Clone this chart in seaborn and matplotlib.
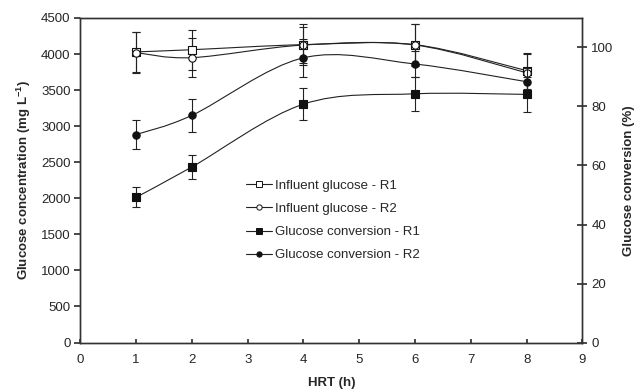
import numpy as np
import pandas as pd
import matplotlib
matplotlib.use("Agg")
import matplotlib.pyplot as plt
import seaborn as sns
from matplotlib.path import Path
from matplotlib.patches import PathPatch
from matplotlib.lines import Line2D

# ---- data ----
hrt = [1, 2, 4, 6, 8]
influent_r1 = [4030, 4060, 4130, 4130, 3770]
influent_r1_err = [280, 276, 285, 285, 250]
influent_r2 = [4020, 3950, 4125, 4125, 3740]
influent_r2_err = [280, 270, 255, 285, 265]
conversion_r1 = [49.2, 59.5, 80.8, 84.3, 84.1]
conversion_r1_err = [3.4, 4.1, 5.5, 5.8, 5.9]
conversion_r2 = [70.5, 77.0, 96.5, 94.4, 88.4]
conversion_r2_err = [4.8, 5.5, 6.5, 4.5, 4.5]
labels = ["Influent glucose - R1", "Influent glucose - R2",
          "Glucose conversion - R1", "Glucose conversion - R2"]

sns.set_theme(style="ticks")
plt.rcParams["font.family"] = ["Liberation Sans", "DejaVu Sans"]
plt.rcParams["mathtext.fontset"] = "custom"
plt.rcParams["mathtext.rm"] = "Liberation Sans"
plt.rcParams["mathtext.bf"] = "Liberation Sans:bold"

FS = 9.5
fig = plt.figure(figsize=(6.35, 3.91), dpi=100)
ax = fig.add_axes([0.1265, 0.124, 0.7906, 0.830])
ax2 = ax.twinx()

spine_c = "#333333"


def smooth_path(x, y):
    pts = np.column_stack([x, y]).astype(float)
    n = len(pts)
    verts = [pts[0]]
    codes = [Path.MOVETO]
    for i in range(n - 1):
        p0 = pts[i - 1] if i > 0 else pts[i]
        p1 = pts[i]
        p2 = pts[i + 1]
        p3 = pts[i + 2] if i + 2 < n else pts[i + 1]
        c1 = p1 + (p2 - p0) / 6.0
        c2 = p2 - (p3 - p1) / 6.0
        verts += [c1, c2, p2]
        codes += [Path.CURVE4] * 3
    return Path(verts, codes)


series = [
    (ax, influent_r1, influent_r1_err, "s", "white"),
    (ax, influent_r2, influent_r2_err, "o", "white"),
    (ax2, conversion_r1, conversion_r1_err, "s", "#111111"),
    (ax2, conversion_r2, conversion_r2_err, "o", "#111111"),
]

for a, vals, err, mk, fc in series:
    a.add_patch(PathPatch(smooth_path(hrt, vals), fill=False,
                          edgecolor="#222222", lw=0.8, zorder=2))
    a.errorbar(hrt, vals, yerr=err, fmt="none", ecolor="#222222",
               elinewidth=0.8, capsize=3, capthick=0.8, zorder=2)
    df = pd.DataFrame({"HRT": hrt, "val": vals})
    sns.scatterplot(data=df, x="HRT", y="val", ax=a, marker=mk, s=28,
                    color=fc, edgecolor="#111111", linewidth=0.8, zorder=3,
                    legend=False)

ax.set_xlim(0, 9)
ax.set_ylim(0, 4500)
ax.set_xticks(range(0, 10))
ax.set_yticks(range(0, 4501, 500))
ax2.set_ylim(0, 110)
ax2.set_yticks(range(0, 101, 20))

ax.set_xlabel("HRT (h)", fontsize=FS, fontweight="bold", labelpad=8)
ax.set_ylabel(r"Glucose concentration (mg L$^{\mathbf{-1}}$)", fontsize=FS,
              fontweight="bold", labelpad=6)
ax2.set_ylabel("Glucose conversion (%)", fontsize=FS, fontweight="bold",
               labelpad=7)

ax.tick_params(axis="x", direction="in", length=3, labelsize=FS, pad=8,
               color=spine_c)
ax.tick_params(axis="y", direction="out", length=4, labelsize=FS, pad=3,
               color=spine_c)
ax2.tick_params(axis="y", direction="inout", length=7, labelsize=FS, pad=3,
                color=spine_c)

for a in (ax, ax2):
    for s in a.spines.values():
        s.set_visible(True)
        s.set_color(spine_c)
        s.set_linewidth(1.0)

handles = []
for _, _, _, mk, fc in series:
    handles.append(Line2D([], [], color="#222222", lw=0.8, marker=mk,
                          markersize=3.8, markerfacecolor=fc,
                          markeredgecolor="#111111", markeredgewidth=0.7))
leg = ax2.legend(handles, labels, loc="center left",
                 bbox_to_anchor=(246 / 635, 1 - 220.5 / 391),
                 bbox_transform=fig.transFigure, frameon=False, fontsize=FS,
                 handlelength=2.0, handletextpad=0.2, labelspacing=0.82,
                 borderpad=0, borderaxespad=0)

fig.savefig("out.png", dpi=100)
